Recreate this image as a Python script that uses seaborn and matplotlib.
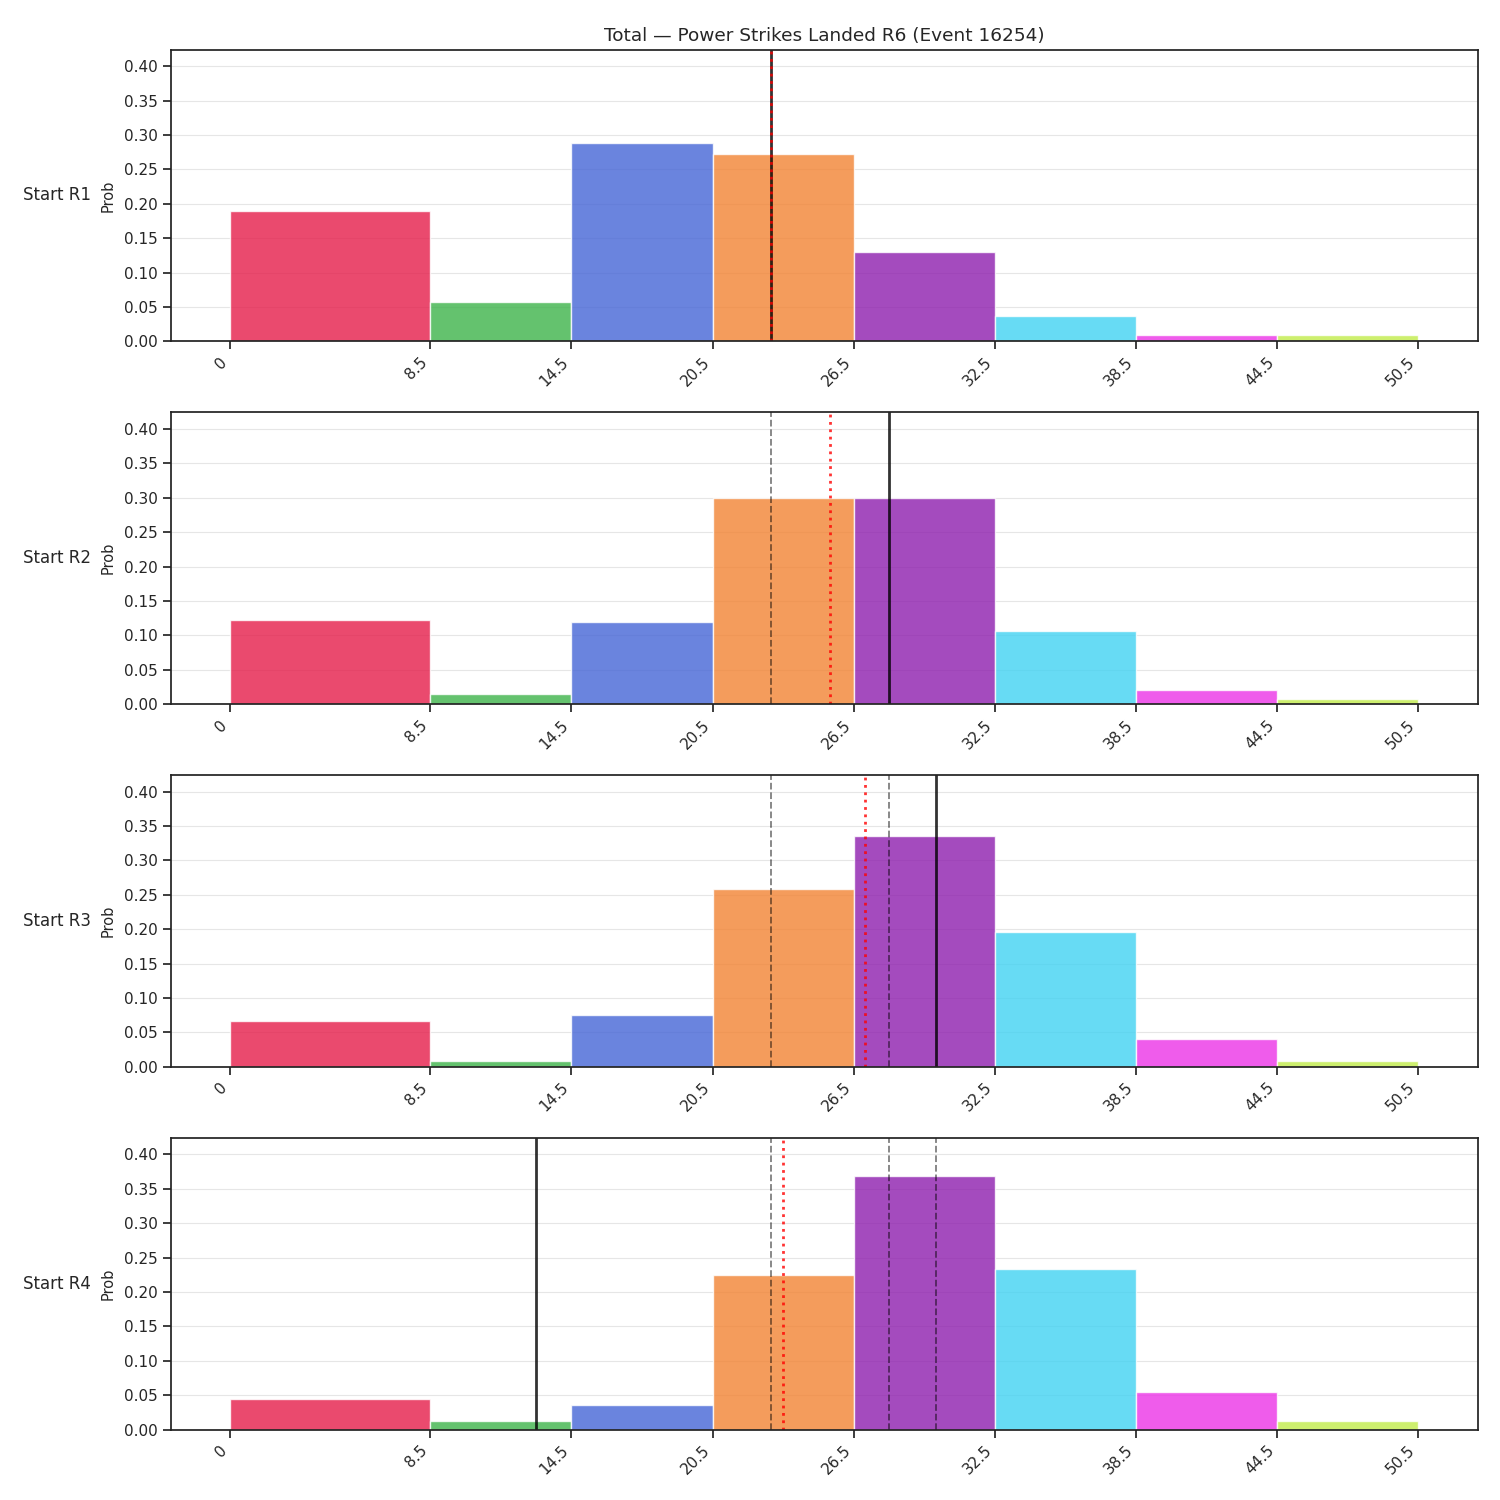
import matplotlib
matplotlib.use("Agg")
import matplotlib.pyplot as plt
import seaborn as sns
import numpy as np

# bin edges and tick labels
bin_edges = [0, 8.5, 14.5, 20.5, 26.5, 32.5, 38.5, 44.5, 50.5]
tick_labels = ["0", "8.5", "14.5", "20.5", "26.5", "32.5", "38.5", "44.5", "50.5"]
bin_colors = ["#E51D4A", "#3DB34A", "#4565D6", "#F28333",
              "#8E1EAE", "#41D2F2", "#EC33E7", "#C1EC4A"]

row_labels = ["Start R1", "Start R2", "Start R3", "Start R4"]

# probability per bin for each starting round
prob_r1 = [0.190, 0.057, 0.288, 0.272, 0.130, 0.037, 0.009, 0.009]
prob_r2 = [0.122, 0.015, 0.119, 0.300, 0.300, 0.106, 0.021, 0.007]
prob_r3 = [0.067, 0.009, 0.076, 0.258, 0.336, 0.196, 0.041, 0.009]
prob_r4 = [0.045, 0.012, 0.035, 0.225, 0.369, 0.234, 0.054, 0.012]
probs = [prob_r1, prob_r2, prob_r3, prob_r4]

# actual value at each start round, and expected total
actual_at_start = [23, 28, 30, 13]
expected_total = [23.0, 25.5, 27.0, 23.5]

sns.set_theme(style="ticks", context="notebook")

fig, axes = plt.subplots(4, 1, figsize=(15, 15), dpi=100)
fig.subplots_adjust(left=0.114, right=0.985, top=0.967, bottom=0.047, hspace=0.243)

centers = [(a + b) / 2 for a, b in zip(bin_edges[:-1], bin_edges[1:])]
ymax = max(max(p) for p in probs) * 1.15

for i, ax in enumerate(axes):
    sns.histplot(x=centers, weights=probs[i], bins=bin_edges, stat="count",
                 alpha=0.8, edgecolor="white", linewidth=1, ax=ax)
    for patch, c in zip(ax.patches, bin_colors):
        patch.set_facecolor(c)
        patch.set_alpha(0.8)

    # current actual value
    ax.axvline(actual_at_start[i], color="black", lw=2, alpha=0.8)
    # previous rounds
    for j in range(i):
        ax.axvline(actual_at_start[j], color="black", lw=1.3, ls="--", alpha=0.5)
    # expected total
    ax.axvline(expected_total[i], color="red", lw=2, ls=":", alpha=0.8)

    ax.set_ylim(0, ymax)
    ax.set_yticks(np.arange(0, 0.41, 0.05))
    ax.set_yticklabels([f"{v:.2f}" for v in np.arange(0, 0.41, 0.05)])
    ax.set_xticks(bin_edges)
    ax.set_xticklabels(tick_labels, rotation=45, ha="right")
    ax.set_ylabel("Prob", fontsize=10.5, labelpad=6)
    ax.set_xlabel("")
    ax.grid(axis="y", color="#e6e6e6", lw=0.8)
    ax.set_axisbelow(True)
    for s in ax.spines.values():
        s.set_color("#222222")
    ax.text(-0.061, 0.5, row_labels[i], transform=ax.transAxes,
            ha="right", va="center", fontsize=12)

axes[0].set_title("Total — Power Strikes Landed R6 (Event 16254)", fontsize=13.3)

fig.savefig("out.png", dpi=100)
